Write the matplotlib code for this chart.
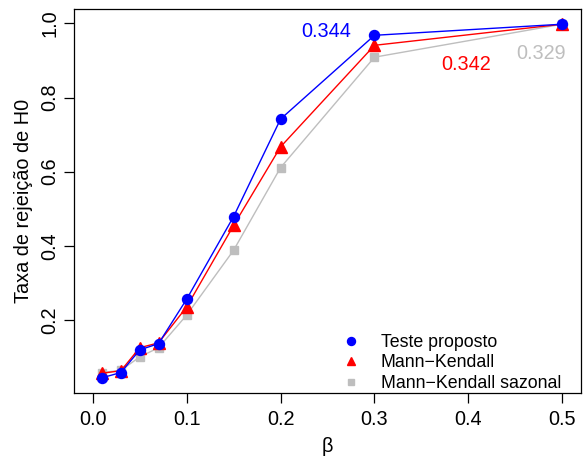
import numpy as np
import matplotlib
matplotlib.use('Agg')
import matplotlib.pyplot as plt
from matplotlib.lines import Line2D

plt.rcParams['font.family'] = ['Liberation Sans', 'DejaVu Sans']

# beta values and rejection rates
beta = [0.01, 0.03, 0.05, 0.07, 0.10, 0.15, 0.20, 0.30, 0.50]
teste = [0.044, 0.058, 0.119, 0.136, 0.256, 0.479, 0.742, 0.968, 0.998]
mk = [0.056, 0.063, 0.125, 0.138, 0.235, 0.455, 0.667, 0.941, 0.998]
mk_saz = [0.058, 0.064, 0.100, 0.125, 0.213, 0.388, 0.611, 0.909, 0.998]

series_names = ['Teste proposto', 'Mann\u2212Kendall', 'Mann\u2212Kendall sazonal']
area_labels = ['0.344', '0.342', '0.329']
label_x = [0.249, 0.398, 0.477]
label_y = [0.979, 0.889, 0.919]

cols = ['#0000FF', '#FF0000', '#BEBEBE']
marks = ['o', '^', 's']
sizes = [7.2, 8.0, 6.2]

fig = plt.figure(figsize=(5.85, 4.57), dpi=100)
ax = fig.add_axes([0.1265, 0.14, 0.8667, 0.8403])

# grey first so blue ends up on top
for vals, c, m, s in reversed(list(zip([teste, mk, mk_saz], cols, marks, sizes))):
    ax.plot(beta, vals, color=c, lw=1.0, marker=m, markersize=s, mec=c, mfc=c)

for t, x, y, c in zip(area_labels, label_x, label_y, cols):
    ax.text(x, y, t, color=c, fontsize=14.3, ha='center', va='center')

ax.set_xlim(-0.02, 0.52)
ax.set_ylim(0.0027, 1.039)
ax.set_xticks([0.0, 0.1, 0.2, 0.3, 0.4, 0.5])
ax.set_yticks([0.2, 0.4, 0.6, 0.8, 1.0])
ax.set_xticklabels(['0.0', '0.1', '0.2', '0.3', '0.4', '0.5'])
ax.set_yticklabels(['0.2', '0.4', '0.6', '0.8', '1.0'], rotation=90, va='center')
ax.tick_params(length=7.5, width=0.9, labelsize=14.3)
ax.tick_params(axis='x', pad=4.5)
ax.tick_params(axis='y', pad=3)
for sp in ax.spines.values():
    sp.set_linewidth(0.9)

ax.set_xlabel('\u03b2', fontsize=14.3, labelpad=6)
ax.set_ylabel('Taxa de rejeição de H0', fontsize=14.3, labelpad=5)

handles = [Line2D([], [], ls='none', marker=m, color=c, markersize=s * 0.8)
           for c, m, s in zip(cols, marks, sizes)]
ax.legend(handles, series_names, loc='lower right', frameon=False, fontsize=12.8,
          handlelength=1.0, handletextpad=1.2, labelspacing=0.2,
          borderaxespad=0.0, bbox_to_anchor=(0.975, -0.016))

fig.savefig('out.png', dpi=100)
